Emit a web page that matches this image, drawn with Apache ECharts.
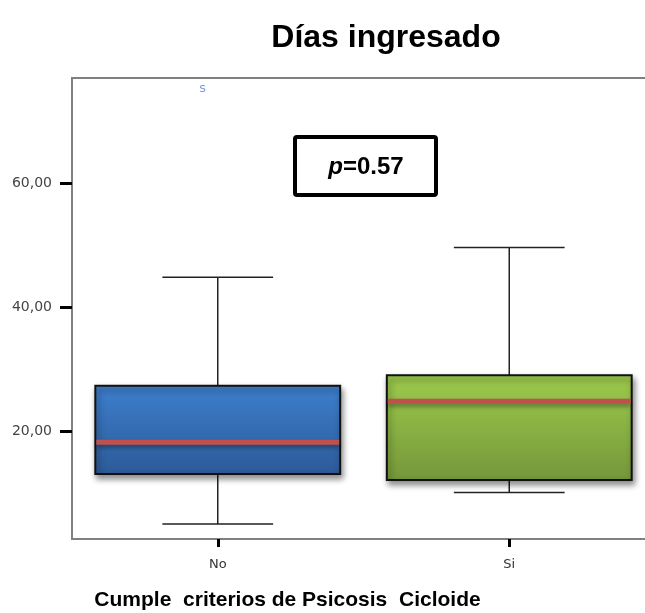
<!DOCTYPE html>
<html>
<head>
<meta charset="utf-8">
<script src="https://cdn.jsdelivr.net/npm/echarts@6/dist/echarts.min.js"></script>
<style>html,body{margin:0;padding:0;background:#fff;}#c{width:645px;height:613px;}</style>
</head>
<body>
<div id="c"></div>
<script>
const categories = ['No', 'Si'];
const mins    = [5.1, 10.2];
const q1s     = [13.2, 12.2];
const medians = [18.3, 24.9];
const q3s     = [27.4, 29.1];
const maxs    = [44.9, 49.7];
const outlierCategory = ['No'];
const outlierValues = [75.4];
const outlierLabels = ['s'];
const yTickValues = [20, 40, 60];
const pText = '0.57';

const boxColors = [
  ['#3d7fcd', '#2c5a97'],
  ['#9dcb4c', '#74963a']
];

const chart = echarts.init(document.getElementById('c'), null, {renderer: 'canvas'});

const boxData = categories.map((c, i) => [i, mins[i], q1s[i], medians[i], q3s[i], maxs[i]]);

const option = {
  animation: false,
  title: {
    text: 'Días ingresado',
    left: 381, top: 17, textAlign: 'center',
    textStyle: {fontFamily: 'Liberation Sans, Arial', fontWeight: 'bold', fontSize: 32, color: '#000'}
  },
  grid: {left: 72, top: 78, width: 583, height: 461, outerBoundsMode: 'none', containLabel: false,
    show: true, borderColor: '#808080', borderWidth: 2, backgroundColor: 'transparent'},
  xAxis: {
    type: 'category', data: categories, boundaryGap: true,
    axisLine: {lineStyle: {color: '#808080', width: 2}},
    axisTick: {show: true, alignWithLabel: true, length: 8, lineStyle: {color: '#000', width: 3}},
    axisLabel: {margin: 19, fontFamily: 'DejaVu Sans, Liberation Sans', fontSize: 13, color: '#333'},
    name: 'Cumple  criterios de Psicosis  Cicloide',
    nameLocation: 'middle', nameGap: 51,
    nameTextStyle: {fontFamily: 'Liberation Sans, Arial', fontWeight: 'bold', fontSize: 21, color: '#000', padding: [0, 0, 0, -152]},
    splitLine: {show: false}
  },
  yAxis: {
    type: 'value', min: 2.7, max: 77.05,
    axisLine: {show: true, lineStyle: {color: '#808080', width: 2}},
    axisTick: {show: true, length: 12, customValues: yTickValues, lineStyle: {color: '#000', width: 3}},
    axisLabel: {customValues: yTickValues, margin: 20, fontFamily: 'DejaVu Sans, Liberation Sans', fontSize: 14, color: '#444',
      formatter: v => v.toFixed(2).replace('.', ','), padding: [7, 0, 0, 0]},
    splitLine: {show: false}
  },
  series: [
    {
      type: 'custom',
      data: boxData,
      encode: {x: 0, y: [1, 2, 3, 4, 5]},
      clip: false,
      renderItem: function (params, api) {
        const i = api.value(0);
        const pMin = api.coord([i, api.value(1)]);
        const pQ1 = api.coord([i, api.value(2)]);
        const pMed = api.coord([i, api.value(3)]);
        const pQ3 = api.coord([i, api.value(4)]);
        const pMax = api.coord([i, api.value(5)]);
        const band = api.size([1, 0])[0];
        const hw = band * 0.42;
        const cw = band * 0.19;
        const cx = pMed[0];
        const cols = boxColors[params.dataIndex];
        const line = {stroke: '#222', lineWidth: 1.5};
        return {
          type: 'group',
          children: [
            {type: 'line', shape: {x1: cx, y1: pQ3[1], x2: cx, y2: pMax[1]}, style: line},
            {type: 'line', shape: {x1: cx, y1: pQ1[1], x2: cx, y2: pMin[1]}, style: line},
            {type: 'line', shape: {x1: cx - cw, y1: pMax[1], x2: cx + cw, y2: pMax[1]}, style: line},
            {type: 'line', shape: {x1: cx - cw, y1: pMin[1], x2: cx + cw, y2: pMin[1]}, style: line},
            {type: 'rect', shape: {x: cx - hw, y: pQ3[1], width: 2 * hw, height: pQ1[1] - pQ3[1]},
              style: {
                fill: new echarts.graphic.LinearGradient(0, 0, 0, 1, [{offset: 0, color: cols[0]}, {offset: 1, color: cols[1]}]),
                stroke: '#111', lineWidth: 2,
                shadowBlur: 6, shadowOffsetX: 2, shadowOffsetY: 4, shadowColor: 'rgba(0,0,0,0.45)'
              }},
            {type: 'rect', shape: {x: cx - hw + 1, y: pMed[1] - 2.5, width: 2 * hw - 2, height: 5},
              style: {fill: '#c0504d', shadowBlur: 4, shadowOffsetY: 3, shadowColor: 'rgba(0,0,0,0.35)'}}
          ]
        };
      }
    },
    {
      type: 'scatter',
      data: outlierCategory.map((c, i) => [c, outlierValues[i], outlierLabels[i]]),
      symbolSize: 1,
      itemStyle: {color: 'rgba(0,0,0,0)'},
      label: {show: true, position: 'inside', offset: [-15, 0], formatter: p => p.value[2],
        fontFamily: 'DejaVu Sans, Liberation Sans', fontSize: 13, color: '#5a8ad0'}
    }
  ],
  graphic: [
    {type: 'rect', shape: {x: 295, y: 137, width: 141, height: 58, r: 2},
      style: {fill: '#fff', stroke: '#000', lineWidth: 4}, z: 100},
    {type: 'text', x: 366, y: 167, z: 101,
      style: {
        text: '{i|p}{b|=' + pText + '}', align: 'center', verticalAlign: 'middle',
        rich: {
          i: {fontFamily: 'Liberation Sans, Arial', fontStyle: 'italic', fontWeight: 'bold', fontSize: 24, fill: '#000'},
          b: {fontFamily: 'Liberation Sans, Arial', fontWeight: 'bold', fontSize: 24, fill: '#000'}
        }
      }}
  ]
};
chart.setOption(option);
</script>
</body>
</html>
